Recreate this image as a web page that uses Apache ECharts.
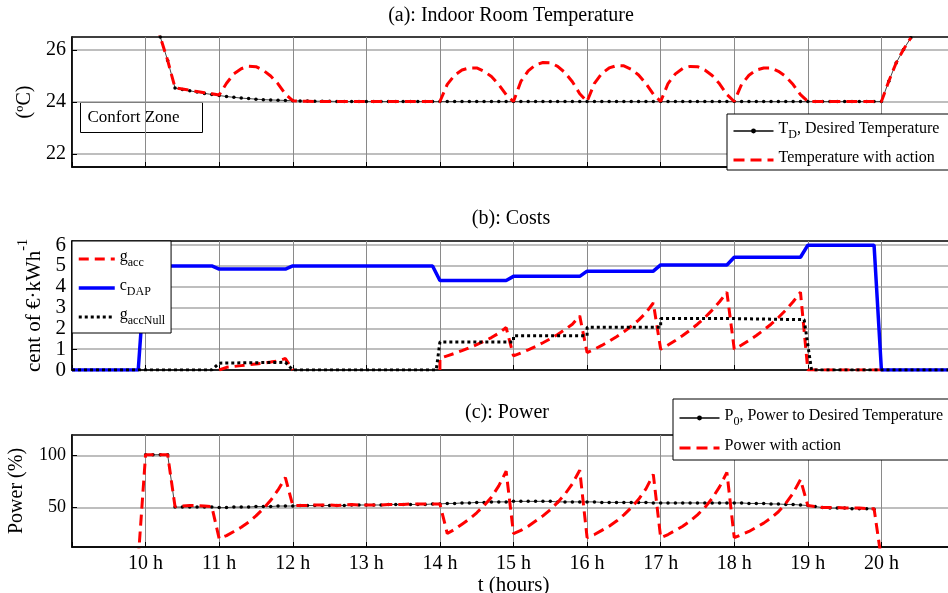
<!DOCTYPE html>
<html>
<head>
<meta charset="utf-8">
<title>Indoor temperature, costs and power</title>
<script src="https://cdn.jsdelivr.net/npm/echarts@6/dist/echarts.min.js"></script>
<style>
html,body{margin:0;padding:0;width:100%;height:100%;background:#fff;}
#chart{width:948px;height:593px;}
</style>
</head>
<body>
<div id="chart"></div>
<script>
// time axis (hours) for panels (a) and (c), one sample every 6 min
var hours = [9.9,
  10.0,10.1,10.2,10.3,10.4,10.5,10.6,10.7,10.8,10.9,
  11.0,11.1,11.2,11.3,11.4,11.5,11.6,11.7,11.8,11.9,
  12.0,12.1,12.2,12.3,12.4,12.5,12.6,12.7,12.8,12.9,
  13.0,13.1,13.2,13.3,13.4,13.5,13.6,13.7,13.8,13.9,
  14.0,14.1,14.2,14.3,14.4,14.5,14.6,14.7,14.8,14.9,
  15.0,15.1,15.2,15.3,15.4,15.5,15.6,15.7,15.8,15.9,
  16.0,16.1,16.2,16.3,16.4,16.5,16.6,16.7,16.8,16.9,
  17.0,17.1,17.2,17.3,17.4,17.5,17.6,17.7,17.8,17.9,
  18.0,18.1,18.2,18.3,18.4,18.5,18.6,18.7,18.8,18.9,
  19.0,19.1,19.2,19.3,19.4,19.5,19.6,19.7,19.8,19.9,
  20.0,20.1,20.2,20.3,20.4];

// (a) indoor temperature
var tempDesired = [null,
  28.2,27.4,26.5,25.6,24.54,24.48,24.43,24.38,24.33,24.29,
  24.25,24.21,24.18,24.15,24.13,24.11,24.09,24.08,24.07,24.06,
  24.05,24.04,24.04,24.03,24.03,24.03,24.02,24.02,24.02,24.02,
  24.02,24.02,24.02,24.02,24.02,24.02,24.02,24.02,24.02,24.02,
  24.02,24.02,24.02,24.02,24.02,24.02,24.02,24.02,24.02,24.02,
  24.02,24.02,24.02,24.02,24.02,24.02,24.02,24.02,24.02,24.02,
  24.02,24.02,24.02,24.02,24.02,24.02,24.02,24.02,24.02,24.02,
  24.02,24.02,24.02,24.02,24.02,24.02,24.02,24.02,24.02,24.02,
  24.02,24.02,24.02,24.02,24.02,24.02,24.02,24.02,24.02,24.02,
  24.02,24.02,24.02,24.02,24.02,24.02,24.02,24.02,24.02,24.02,
  24.02,24.8,25.5,26.02,26.47];
var tempAction = [null,
  28.2,27.4,26.5,25.6,24.55,24.5,24.45,24.4,24.36,24.32,
  24.27,24.72,25.08,25.28,25.38,25.36,25.22,25.0,24.7,24.3,
  24.05,24.03,24.03,24.02,24.02,24.02,24.02,24.02,24.02,24.02,
  24.02,24.02,24.02,24.02,24.02,24.02,24.02,24.02,24.02,24.02,
  24.02,24.68,25.03,25.23,25.31,25.31,25.18,24.98,24.67,24.28,
  24.02,24.79,25.2,25.43,25.52,25.51,25.37,25.13,24.78,24.32,
  24.02,24.72,25.1,25.31,25.4,25.39,25.26,25.04,24.71,24.3,
  24.02,24.71,25.08,25.29,25.37,25.36,25.23,25.02,24.7,24.29,
  24.02,24.68,25.03,25.23,25.31,25.31,25.18,24.98,24.67,24.28,
  24.02,24.02,24.02,24.02,24.02,24.02,24.02,24.02,24.02,24.02,
  24.02,24.8,25.5,26.02,26.47];

// (c) power (%)
var powerDesired = [null,
  101,101,101,101,50.5,50.5,50.5,50.5,50.5,50.5,
  50,50,50.5,50.5,50.5,51,51,51,51.5,51.5,
  51.5,52,52,52,52,52,52,52,52.5,52.5,
  52.5,52.5,52.5,53,53,53,53,53,53,53.5,
  53.5,54,54,54.5,54.5,55,55,55.5,55.5,55.5,
  56,56,56,56,56,56,55.5,55.5,55.5,55.5,
  55.5,55.5,55,55,55,55,55,55,55,54.5,
  54.5,54.5,54.5,54.5,54.5,54.5,54.5,54.5,54.5,54.5,
  54.5,54.5,54,54,54,53.5,53.5,53,53,52.5,
  52,51,50,49.5,49.5,49.5,49,49,49,48.5,
  null,null,null,null,null];
var powerAction = [0,
  101,101,101,101,51,51.5,52,52,51.5,51,
  20,23,27,31,36,42,49,57,67,79,
  52,52,52,52.5,52.5,52.5,52,52.5,53,52.5,
  52.5,52.5,52.5,53,53,53,53.5,53.5,53.5,53.5,
  53.5,25,29,34,39,45,52,60,71,85,
  25,28,32,37,42,48,55,63,73,86,
  21,24,28,32,37,43,50,58,68,82,
  21,24,28,32,37,43,50,59,70,84,
  21,24,27,31,35,40,46,54,64,77,
  52,51,50,50,50,49.5,49.5,49.5,49,49,
  0,null,null,null,null];

// (b) costs, [hour, cent/kWh]
var cDAP = [[9,0],[9.9,0],[10,5],[10.9,5],[11,4.85],[11.9,4.85],[12,5],[13.9,5],
  [14,4.3],[14.9,4.3],[15,4.5],[15.9,4.5],[16,4.75],[16.9,4.75],[17,5.05],[17.9,5.05],
  [18,5.42],[18.9,5.42],[19,6],[19.9,6],[20,0],[21,0]];
var gAcc = [[11,0],[11.1,0.13],[11.2,0.17],[11.3,0.21],[11.4,0.25],[11.5,0.29],[11.6,0.33],
  [11.7,0.38],[11.8,0.44],[11.9,0.55],[12,0],[12.5,null],
  [14,0],[14,0.56],[14.1,0.68],[14.2,0.8],[14.3,0.93],[14.4,1.07],[14.5,1.22],[14.6,1.38],[14.7,1.56],[14.8,1.77],[14.9,2.04],
  [15,0.68],[15.1,0.82],[15.2,0.97],[15.3,1.13],[15.4,1.31],[15.5,1.5],[15.6,1.71],[15.7,1.94],[15.8,2.2],[15.9,2.6],
  [16,0.84],[16.1,1.0],[16.2,1.18],[16.3,1.38],[16.4,1.6],[16.5,1.84],[16.6,2.1],[16.7,2.4],[16.8,2.75],[16.9,3.22],
  [17,1.0],[17.1,1.2],[17.2,1.42],[17.3,1.66],[17.4,1.92],[17.5,2.2],[17.6,2.52],[17.7,2.88],[17.8,3.28],[17.9,3.74],
  [18,1.0],[18.1,1.2],[18.2,1.42],[18.3,1.66],[18.4,1.92],[18.5,2.2],[18.6,2.52],[18.7,2.88],[18.8,3.28],[18.9,3.74],
  [19,0],[20,0]];
var gAccNull = [[9,0],[10.9,0],[11,0.33],[11.9,0.37],[12,0],[13.95,0],[14,1.35],[15,1.35],[15,1.65],
  [16,1.65],[16,2.05],[17,2.05],[17,2.47],[18,2.47],[18,2.42],[18.95,2.42],[19.05,0],[21,0]];

var hourTicks = [10,11,12,13,14,15,16,17,18,19,20];

var FONT = '"Liberation Serif", "Times New Roman", serif';
var chart = echarts.init(document.getElementById('chart'), null, {renderer: 'canvas'});

function pairs(vals) {
  return hours.map(function (h, i) { return [h, vals[i]]; });
}
function legendName(name) {
  var m = name.match(/^(\w)_(\w+)(.*)$/);
  if (m) return '{n|' + m[1] + '}{s|' + m[2] + '}' + (m[3] ? '{n|' + m[3] + '}' : '');
  return '{n|' + name + '}';
}
var legendRich = {
  n: {fontFamily: FONT, fontSize: 16, color: '#000', verticalAlign: 'bottom', padding: [0, 0, 4, 0]},
  s: {fontFamily: FONT, fontSize: 12, color: '#000', verticalAlign: 'bottom'}
};
// line-only legend entries (no marker), thick line like the series
function plain(name, w) { return {name: name, itemStyle: {opacity: 0}, lineStyle: {width: w}}; }

function xAxis(gi, labels) {
  return {
    type: 'value', gridIndex: gi, min: 9, max: 21, interval: 1,
    axisLine: {show: true, lineStyle: {color: '#000', width: 1.5}},
    axisTick: {show: true, inside: true, length: 5, lineStyle: {color: '#000'}},
    axisLabel: {
      show: labels, margin: 7, fontFamily: FONT, fontSize: 20, color: '#000',
      formatter: function (v) { return hourTicks.indexOf(v) >= 0 ? v + ' h' : ''; }
    },
    splitLine: {show: true, lineStyle: {color: '#8a8a8a', width: 1}},
    name: labels ? 't (hours)' : '', nameLocation: 'middle', nameGap: 28,
    nameTextStyle: {fontFamily: FONT, fontSize: 21, color: '#000'}
  };
}
function yAxis(gi, min, max, ticks, size, name, gap, rich) {
  return {
    type: 'value', gridIndex: gi, min: min, max: max,
    axisLine: {show: true, lineStyle: {color: '#000', width: 1.5}},
    axisTick: {show: true, inside: true, length: 5, customValues: ticks, lineStyle: {color: '#000'}},
    axisLabel: {customValues: ticks, margin: 6, fontFamily: FONT, fontSize: size, color: '#000'},
    splitLine: {show: true, lineStyle: {color: '#a8a8a8', width: 1.5}},
    name: name, nameLocation: 'middle', nameRotate: 90, nameGap: gap,
    nameTextStyle: {fontFamily: FONT, fontSize: 20, color: '#000', rich: rich || {}}
  };
}

var gridBase = {left: 72, width: 883, show: true, borderColor: '#000', borderWidth: 1.5,
  containLabel: false, outerBoundsMode: 'none'};

var option = {
  backgroundColor: '#fff',
  animation: false,
  title: [
    {text: '(a): Indoor Room Temperature', left: 511, top: 6, textAlign: 'center', padding: 0,
      textStyle: {fontFamily: FONT, fontSize: 20, fontWeight: 'normal', color: '#000'}},
    {text: '(b): Costs', left: 511, top: 209, textAlign: 'center', padding: 0,
      textStyle: {fontFamily: FONT, fontSize: 20, fontWeight: 'normal', color: '#000'}},
    {text: '(c): Power', left: 507, top: 403, textAlign: 'center', padding: 0,
      textStyle: {fontFamily: FONT, fontSize: 20, fontWeight: 'normal', color: '#000'}}
  ],
  grid: [
    Object.assign({top: 37, height: 130}, gridBase),
    Object.assign({top: 241, height: 129}, gridBase),
    Object.assign({top: 435, height: 112}, gridBase)
  ],
  xAxis: [xAxis(0, false), xAxis(1, false), xAxis(2, true)],
  yAxis: [
    yAxis(0, 21.5, 26.5, [22, 24, 26], 20, '(ºC)', 33),
    yAxis(1, 0, 6.2, [0, 1, 2, 3, 4, 5, 6], 21, '{m|cent of €·kWh}{p|-1}', 25, {
      m: {fontFamily: FONT, fontSize: 21, color: '#000', verticalAlign: 'top', padding: [7, 0, 0, 0]},
      p: {fontFamily: FONT, fontSize: 14, color: '#000', verticalAlign: 'top'}
    }),
    yAxis(2, 12, 120, [50, 100], 18, 'Power (%)', 45)
  ],
  legend: [
    {data: ['T_D, Desired Temperature', plain('Temperature with action', 3)], orient: 'vertical',
      left: 727, top: 114, padding: [7, 30, 4, 5], itemGap: 9, itemWidth: 40, itemHeight: 6,
      backgroundColor: '#fff', borderColor: '#000', borderWidth: 1, borderRadius: 0,
      formatter: legendName, textStyle: {rich: legendRich}, selectedMode: false},
    {data: [plain('g_acc', 3), plain('c_DAP', 3.5), plain('g_accNull', 3)], orient: 'vertical',
      left: 72, top: 241, padding: [8, 6, 6, 5], itemGap: 9, itemWidth: 36, itemHeight: 6,
      backgroundColor: '#fff', borderColor: '#000', borderWidth: 1, borderRadius: 0,
      formatter: legendName, textStyle: {rich: legendRich}, selectedMode: false},
    {data: ['P_0, Power to Desired Temperature', plain('Power with action', 3)], orient: 'vertical',
      left: 673, top: 399, padding: [9, 30, 6, 5], itemGap: 10, itemWidth: 40, itemHeight: 6,
      backgroundColor: '#fff', borderColor: '#000', borderWidth: 1, borderRadius: 0,
      formatter: legendName, textStyle: {rich: legendRich}, selectedMode: false}
  ],
  graphic: [{
    type: 'group', left: 80, top: 102, z: 50,
    children: [
      {type: 'rect', shape: {x: 0, y: 0, width: 122, height: 30}, style: {fill: '#fff', stroke: '#000', lineWidth: 1}},
      {type: 'text', x: 7, y: 15, style: {text: 'Confort Zone', fill: '#000', font: '17px ' + FONT, verticalAlign: 'middle'}}
    ]
  }],
  series: [
    {name: 'T_D, Desired Temperature', type: 'line', xAxisIndex: 0, yAxisIndex: 0,
      data: pairs(tempDesired), symbol: 'circle', symbolSize: 3.5, showSymbol: true,
      itemStyle: {color: '#000'}, lineStyle: {color: '#444', width: 1}, z: 2},
    {name: 'Temperature with action', type: 'line', xAxisIndex: 0, yAxisIndex: 0,
      data: pairs(tempAction), showSymbol: false, symbol: 'none',
      itemStyle: {color: '#ff0000'}, lineStyle: {color: '#ff0000', width: 3, type: [11, 6]}, z: 3},

    {name: 'g_acc', type: 'line', xAxisIndex: 1, yAxisIndex: 1, data: gAcc,
      showSymbol: false, symbol: 'none', connectNulls: false,
      itemStyle: {color: '#ff0000'}, lineStyle: {color: '#ff0000', width: 3, type: [10, 6]}, z: 2},
    {name: 'c_DAP', type: 'line', xAxisIndex: 1, yAxisIndex: 1, data: cDAP,
      showSymbol: false, symbol: 'none',
      itemStyle: {color: '#0000ff'}, lineStyle: {color: '#0000ff', width: 3.5}, z: 3},
    {name: 'g_accNull', type: 'line', xAxisIndex: 1, yAxisIndex: 1, data: gAccNull,
      showSymbol: false, symbol: 'none',
      itemStyle: {color: '#000'}, lineStyle: {color: '#000', width: 3, type: [3, 3]}, z: 4},

    {name: 'P_0, Power to Desired Temperature', type: 'line', xAxisIndex: 2, yAxisIndex: 2,
      data: pairs(powerDesired), symbol: 'circle', symbolSize: 3.5, showSymbol: true,
      itemStyle: {color: '#000'}, lineStyle: {color: '#444', width: 1}, z: 2},
    {name: 'Power with action', type: 'line', xAxisIndex: 2, yAxisIndex: 2,
      data: pairs(powerAction), showSymbol: false, symbol: 'none',
      itemStyle: {color: '#ff0000'}, lineStyle: {color: '#ff0000', width: 3, type: [11, 6]}, z: 3}
  ]
};

chart.setOption(option);
</script>
</body>
</html>
